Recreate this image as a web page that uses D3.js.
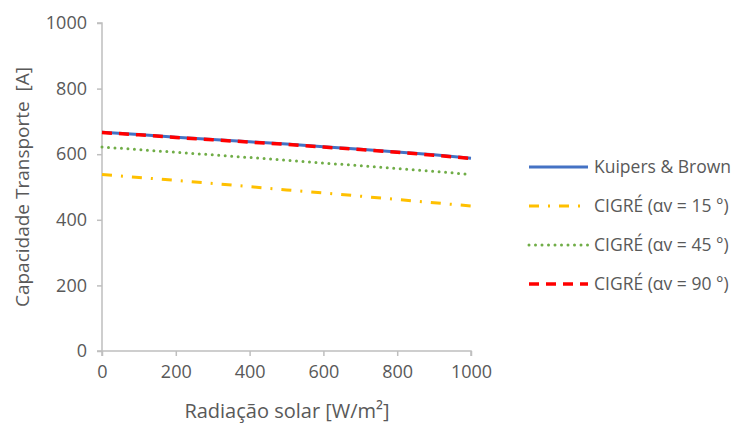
<!DOCTYPE html>
<html><head><meta charset="utf-8">
<script src="https://cdn.jsdelivr.net/npm/d3@7"></script>
<style>body{margin:0;background:#fff}svg{display:block}text{font-family:"Open Sans",sans-serif;fill:#595959}</style>
</head><body><svg id="c" width="736" height="424"></svg>
<script>
const radiation = [0,100,200,300,400,500,600,700,800,900,1000];
const kuipers  = [667,660,652,645,638,631,623,615,607,598,588];
const cigre15  = [538,529,520,511,501,491,482,472,462,452,442];
const cigre45  = [622,614,606,598,590,582,573,565,556,548,538];
const cigre90  = [666,659,651,644,637,630,622,614,606,597,587];
const seriesNames = ["Kuipers & Brown","CIGRÉ (αv = 15 °)","CIGRÉ (αv = 45 °)","CIGRÉ (αv = 90 °)"];
const xTicks = [0,200,400,600,800,1000];
const yTicks = [0,200,400,600,800,1000];
const xTitle = "Radiação solar [W/m²]";
const yTitle = "Capacidade Transporte  [A]";

const styles = [
  {color:"#4472C4", width:3, dash:null, cap:"butt"},
  {color:"#FFC000", width:3, dash:"10,9,2,9", cap:"butt"},
  {color:"#70AD47", width:3, dash:"0,6.5", cap:"round"},
  {color:"#FF0000", width:3.5, dash:"10,7", cap:"butt"}
];
const data = [kuipers,cigre15,cigre45,cigre90];

const svg = d3.select("#c");
const x = d3.scaleLinear().domain([0,1000]).range([102,471]);
const y = d3.scaleLinear().domain([0,1000]).range([351,23]);

const yAxis = svg.append("g").attr("transform","translate(102,0)")
  .call(d3.axisLeft(y).tickValues(yTicks).tickFormat(d3.format("d")).tickSize(5).tickPadding(10));
const xAxis = svg.append("g").attr("transform","translate(0,351)")
  .call(d3.axisBottom(x).tickValues(xTicks).tickFormat(d3.format("d")).tickSize(5).tickPadding(9));
[yAxis,xAxis].forEach(a=>{
  a.select(".domain").attr("stroke","#bfbfbf").attr("stroke-width",1.5);
  a.selectAll(".tick line").attr("stroke","#bfbfbf").attr("stroke-width",1.5);
  a.selectAll(".tick text").style("font-size","18px").attr("fill","#595959");
});
xAxis.selectAll(".domain").attr("d",`M102,5V0H471V5`);
yAxis.selectAll(".domain").attr("d",`M-5,${y(1000)}H0V${y(0)}H-5`);

const line = d3.line().x((d,i)=>x(radiation[i])).y(d=>y(d));
data.forEach((s,k)=>{
  const st = styles[k];
  svg.append("path").datum(s).attr("d",line).attr("fill","none")
    .attr("stroke",st.color).attr("stroke-width",st.width)
    .attr("stroke-dasharray",st.dash).attr("stroke-linecap",st.cap);
});

svg.append("text").attr("x",287).attr("y",418).attr("text-anchor","middle")
  .style("font-size","20px").text(xTitle);
svg.append("text").attr("transform","translate(29,187) rotate(-90)").attr("text-anchor","middle")
  .style("font-size","19px").style("white-space","pre").text(yTitle);

const lg = svg.append("g");
seriesNames.forEach((n,k)=>{
  const st = styles[k];
  const yy = 167 + k*39;
  lg.append("line").attr("x1",529).attr("x2",588).attr("y1",yy).attr("y2",yy)
    .attr("stroke",st.color).attr("stroke-width",st.width)
    .attr("stroke-dasharray",st.dash).attr("stroke-linecap",st.cap);
  lg.append("text").attr("x",594).attr("y",yy).attr("dy","0.35em")
    .style("font-size","17.5px").text(n);
});
</script></body></html>
